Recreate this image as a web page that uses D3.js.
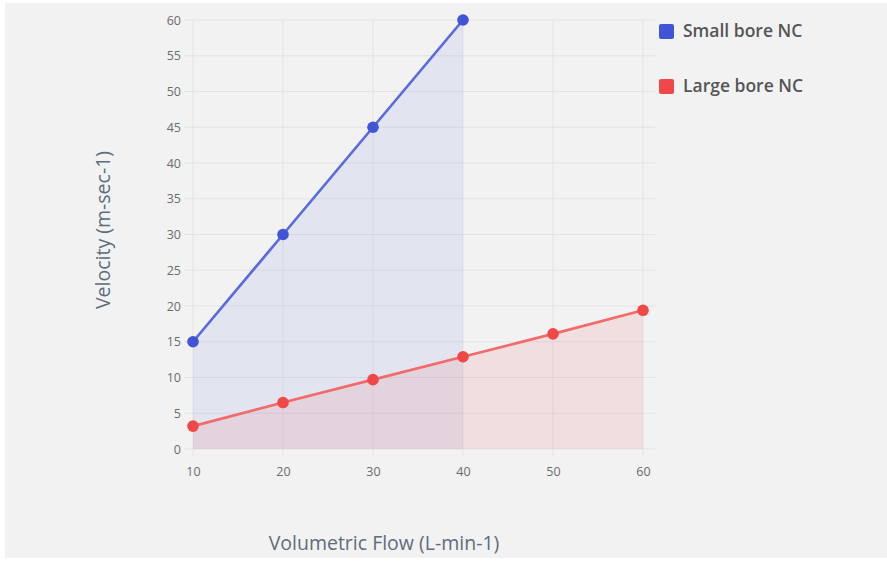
<!DOCTYPE html>
<html><head><meta charset="utf-8">
<script src="https://cdn.jsdelivr.net/npm/d3@7/dist/d3.min.js"></script>
<style>
html,body{margin:0;padding:0;background:#fff;}
svg{display:block;}
</style></head>
<body>
<svg id="c" width="887" height="561"></svg>
<script>
const flows = [10, 20, 30, 40, 50, 60];
const smallBore = [15, 30, 45, 60];
const largeBore = [3.2, 6.5, 9.7, 12.9, 16.1, 19.4];
const yTicks = [0, 5, 10, 15, 20, 25, 30, 35, 40, 45, 50, 55, 60];
const seriesNames = ["Small bore NC", "Large bore NC"];

const svg = d3.select("#c");
svg.append("rect").attr("x", 5).attr("y", 3).attr("width", 882).attr("height", 555).attr("fill", "#f2f2f2");

const x = d3.scaleLinear().domain([10, 60]).range([193, 643]);
const y = d3.scaleLinear().domain([0, 60]).range([449, 20]);

const font = "'Open Sans', 'Noto Sans', sans-serif";
// grid
const g = svg.append("g");
g.selectAll(".hg").data(yTicks).enter().append("line")
  .attr("x1", 184).attr("x2", 655)
  .attr("y1", d => y(d)).attr("y2", d => y(d))
  .attr("stroke", "#e3e3e3").attr("stroke-width", 1);
g.selectAll(".vg").data(flows).enter().append("line")
  .attr("x1", d => x(d)).attr("x2", d => x(d))
  .attr("y1", y(60)).attr("y2", 456)
  .attr("stroke", "#e3e3e3").attr("stroke-width", 1);

// axes via d3
const yAxis = d3.axisLeft(y).tickValues(yTicks).tickSize(0).tickPadding(12);
const ya = svg.append("g").attr("transform", "translate(193,0)").call(yAxis);
ya.select(".domain").remove();
ya.selectAll("text").attr("fill", "#6b6b6b").style("font-family", font).style("font-size", "12.5px");

const xAxis = d3.axisBottom(x).tickValues(flows).tickSize(0).tickPadding(9);
const xa = svg.append("g").attr("transform", "translate(0,458)").call(xAxis);
xa.select(".domain").remove();
xa.selectAll("text").attr("fill", "#6b6b6b").style("font-family", font).style("font-size", "12.5px");

const series = [
  {name: seriesNames[0], vals: smallBore, line: "#5a6bdb", point: "#4254d6", fill: "rgba(90,107,219,0.10)"},
  {name: seriesNames[1], vals: largeBore, line: "#f26a6a", point: "#f04848", fill: "rgba(242,90,90,0.12)"}
];

series.forEach(s => {
  const pts = s.vals.map((v, i) => [flows[i], v]);
  const area = d3.area().x(d => x(d[0])).y0(y(0)).y1(d => y(d[1]));
  svg.append("path").datum(pts).attr("d", area).attr("fill", s.fill);
});
series.forEach(s => {
  const pts = s.vals.map((v, i) => [flows[i], v]);
  const line = d3.line().x(d => x(d[0])).y(d => y(d[1]));
  svg.append("path").datum(pts).attr("d", line).attr("fill", "none")
    .attr("stroke", s.line).attr("stroke-width", 2.7);
  svg.selectAll(null).data(pts).enter().append("circle")
    .attr("cx", d => x(d[0])).attr("cy", d => y(d[1])).attr("r", 5.8)
    .attr("fill", s.point);
});

// legend
const leg = svg.append("g");
series.forEach((s, i) => {
  const ly = 31 + i * 55;
  leg.append("rect").attr("x", 659).attr("y", ly - 7).attr("width", 15).attr("height", 15)
    .attr("rx", 2).attr("fill", s.point);
  leg.append("text").attr("x", 683).attr("y", ly).attr("dy", "0.35em")
    .attr("fill", "#555").style("font-family", font).style("font-size", "17.5px").style("font-weight", 600)
    .text(s.name);
});

// axis titles
svg.append("text").attr("x", 384).attr("y", 550).attr("text-anchor", "middle")
  .attr("fill", "#5d6d7c").style("font-family", font).style("font-size", "19.5px")
  .text("Volumetric Flow (L-min-1)");
svg.append("text").attr("transform", "translate(103,230) rotate(-90)").attr("text-anchor", "middle")
  .attr("dy", "0.35em")
  .attr("fill", "#5d6d7c").style("font-family", font).style("font-size", "19.5px")
  .text("Velocity (m-sec-1)");
</script>
</body></html>
